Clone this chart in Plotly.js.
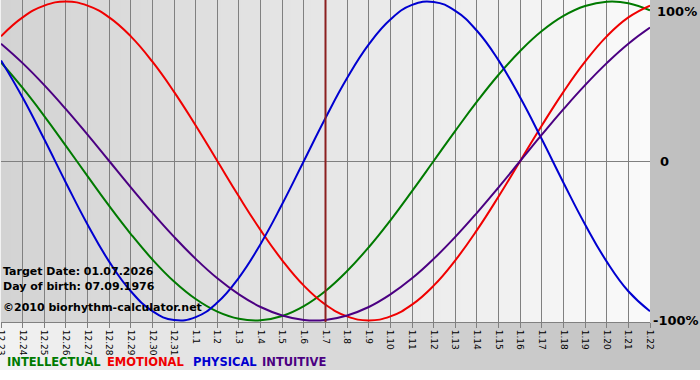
<!DOCTYPE html>
<html>
<head>
<meta charset="utf-8">
<script src="https://cdn.plot.ly/plotly-3.0.1.min.js"></script>
<style>html,body{margin:0;padding:0;background:#fff;}#chart{width:700px;height:380px;}</style>
</head>
<body>
<div id="chart"></div>
<script>
// ---- data ----
const dates = ['12.23','12.24','12.25','12.26','12.27','12.28','12.29','12.30','12.31',
  '1.1','1.2','1.3','1.4','1.5','1.6','1.7','1.8','1.9','1.10','1.11','1.12','1.13',
  '1.14','1.15','1.16','1.17','1.18','1.19','1.20','1.21','1.22'];
const intellectual = [0.618,0.458,0.282,0.095,-0.095,-0.282,-0.458,-0.618,-0.756,-0.866,-0.945,-0.990,-0.999,-0.972,-0.910,-0.815,-0.690,-0.541,-0.372,-0.189,0.000,0.189,0.372,0.541,0.690,0.815,0.910,0.972,0.999,0.990,0.945];
const emotional = [0.782,0.901,0.975,1.000,0.975,0.901,0.782,0.623,0.434,0.223,0.000,-0.223,-0.434,-0.623,-0.782,-0.901,-0.975,-1.000,-0.975,-0.901,-0.782,-0.623,-0.434,-0.223,0.000,0.223,0.434,0.623,0.782,0.901,0.975];
const physical = [0.631,0.398,0.136,-0.136,-0.398,-0.631,-0.817,-0.942,-0.998,-0.979,-0.888,-0.731,-0.520,-0.270,0.000,0.270,0.520,0.731,0.888,0.979,0.998,0.942,0.817,0.631,0.398,0.136,-0.136,-0.398,-0.631,-0.817,-0.942];
const intuitive = [0.736,0.614,0.476,0.325,0.165,0.000,-0.165,-0.325,-0.476,-0.614,-0.736,-0.837,-0.916,-0.969,-0.997,-0.997,-0.969,-0.916,-0.837,-0.736,-0.614,-0.476,-0.325,-0.165,0.000,0.165,0.325,0.476,0.614,0.736,0.837];
const seriesNames = ['INTELLECTUAL','EMOTIONAL','PHYSICAL','INTUITIVE'];
const yTickVals = [-1, 0, 1];
const yTickText = ['-100%', '0', '100%'];
const targetDate = '1.7';
const infoLines = ['Target Date: 01.07.2026', 'Day of birth: 07.09.1976', '\u00a92010 biorhythm-calculator.net'];

// ---- layout geometry / styles ----
const W = 700, H = 380, ML = 1, MR = 50, MT = 0, MB = 58;
const PW = W - ML - MR, PH = H - MT - MB;
const px = x => (x - ML) / PW;
const py = y => (MT + PH - y) / PH;
const colors = ['#007a00', '#f00000', '#0000d0', '#4b0082'];
const FONT = 'DejaVu Sans';

const shapes = [];
function gray(v){ v = Math.round(v); return 'rgb(' + v + ',' + v + ',' + v + ')'; }
// paper gradient (light left -> grey right), stops at y=370
const NP = 70;
for (let i = 0; i < NP; i++) {
  const x0 = i * W / NP, x1 = (i + 1) * W / NP + 0.8;
  shapes.push({type:'rect', xref:'paper', yref:'paper', layer:'below',
    x0: px(x0), x1: px(x1), y0: py(370), y1: py(0),
    fillcolor: gray(242 - (242 - 190) * (i + 0.5) / NP), line:{width:0}});
}
// plot-area gradient (darker left -> lighter right)
const NA = 65;
for (let i = 0; i < NA; i++) {
  const x0 = i / NA, x1 = Math.min(1, (i + 1) / NA + 0.002);
  shapes.push({type:'rect', xref:'paper', yref:'paper', layer:'below',
    x0: x0, x1: x1, y0: 0, y1: 1,
    fillcolor: gray(211 + (250 - 211) * (i + 0.5) / NA), line:{width:0}});
}
// target date marker
const ti = dates.indexOf(targetDate);
shapes.push({type:'line', xref:'x', yref:'paper', layer:'above',
  x0: ti, x1: ti, y0: 0, y1: 1,
  line:{color:'#8b2020', width:2}});

const series = [intellectual, emotional, physical, intuitive];
const traces = series.map((s, i) => ({
  type:'scatter', mode:'lines', x: dates, y: s, name: seriesNames[i],
  line:{color: colors[i], width: 2, shape:'spline', smoothing: 1.3},
  hoverinfo:'skip'
}));

const annotations = infoLines.map((t, i) => ({
  xref:'paper', yref:'paper', x: px(1), y: py([271, 286, 307][i]),
  xanchor:'left', yanchor:'middle', showarrow:false, text: t,
  font:{family: FONT, size: 11, color:'#000', weight:'bold'}
}));
const legendX = [5, 105, 191, 260];
seriesNames.forEach((n, i) => annotations.push({
  xref:'paper', yref:'paper', x: px(legendX[i]), y: py(362),
  xanchor:'left', yanchor:'middle', showarrow:false, text: n,
  font:{family: FONT, size: 11.5, color: colors[i], weight:'bold'}
}));
// y-axis labels on the right, placed on the y scale
const yLabX = [651, 658, 655];
const yLabAnchor = ['middle', 'middle', 'top'];
yTickVals.forEach((v, i) => annotations.push({
  xref:'paper', yref:'y', x: px(yLabX[i]), y: v,
  xanchor:'left', yanchor: yLabAnchor[i], showarrow:false, text: yTickText[i],
  font:{family: FONT, size: 13, color:'#000', weight:'bold'}
}));

const layout = {
  width: W, height: H,
  margin:{l: ML, r: MR, t: MT, b: MB, pad: 0},
  paper_bgcolor:'#ffffff', plot_bgcolor:'rgba(0,0,0,0)',
  showlegend:false,
  xaxis:{type:'category', range:[0, dates.length - 1], tickmode:'array',
    tickvals: dates, ticktext: dates, tickangle: 90,
    showgrid:true, gridcolor:'#808080', gridwidth:1,
    ticks:'outside', ticklen:5, tickcolor:'#808080', tickwidth:1,
    showline:true, linecolor:'#808080', linewidth:1,
    zeroline:false, fixedrange:true, automargin:false,
    tickfont:{family: FONT, size: 9, color:'#000'}},
  yaxis:{range:[-1.01, 1.01], side:'right', showticklabels:false, showgrid:false,
    zeroline:true, zerolinecolor:'#808080', zerolinewidth:1,
    ticks:'', showline:false, fixedrange:true, automargin:false},
  shapes: shapes, annotations: annotations
};
Plotly.newPlot('chart', traces, layout, {staticPlot:true, displayModeBar:false});
</script>
</body>
</html>
